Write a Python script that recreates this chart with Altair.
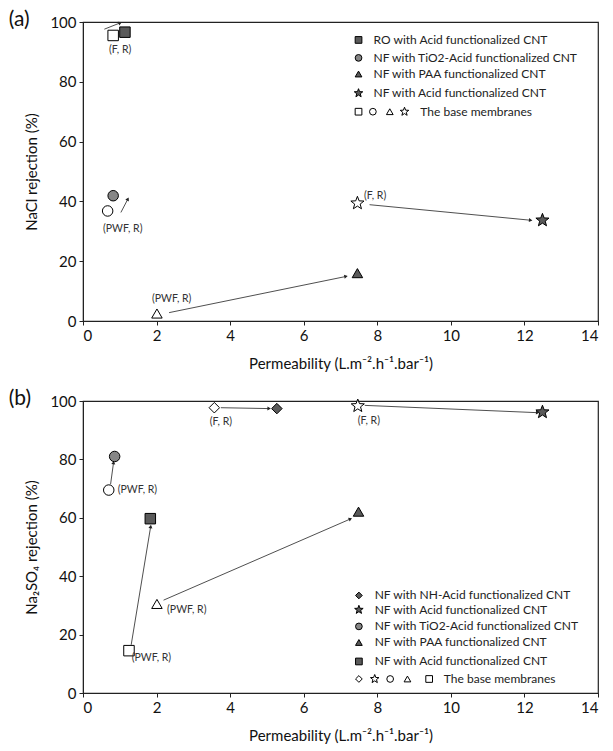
import math
import altair as alt
import pandas as pd

W = 515
HA = 299
HB = 292
FONT = "Lato"

# ---------------- Panel (a): NaCl ----------------
a_shapes = ["square", "circle", "triangle-up", "star"]
a_fills = ["dark", "mid", "dark", "dark"]
a_base_x = [0.82, 0.67, 2.01, 7.46]
a_base_y = [95.5, 36.8, 2.5, 39.4]
a_mod_x = [1.14, 0.82, 7.46, 12.49]
a_mod_y = [96.6, 41.9, 16.0, 33.7]

a_arr_x1 = [0.58, 1.03, 2.34, 7.79]
a_arr_y1 = [97.6, 36.3, 2.8, 38.9]
a_arr_x2 = [1.01, 1.22, 7.15, 12.17]
a_arr_y2 = [99.7, 40.8, 14.9, 33.7]

a_note_text = ["(F, R)", "(PWF, R)", "(PWF, R)", "(F, R)"]
a_note_x = [1.01, 1.08, 2.41, 7.94]
a_note_y = [90.8, 30.7, 7.5, 41.9]

a_leg_labels = ["RO with Acid functionalized CNT",
                "NF with TiO2-Acid functionalized CNT",
                "NF with PAA functionalized CNT",
                "NF with Acid functionalized CNT"]
a_leg_y = [94.0, 88.0, 82.6, 76.2]
a_leg_mx = 7.49
a_leg_tx = 7.9
a_base_row_y = 70.0
a_base_row_x = [7.49, 7.88, 8.34, 8.74]
a_base_row_tx = 9.17
base_label = "The base membranes"

# ---------------- Panel (b): Na2SO4 ----------------
b_shapes = ["diamond", "star", "circle", "triangle-up", "square"]
b_fills = ["dark", "dark", "mid", "dark", "dark"]
b_base_x = [3.57, 7.47, 0.70, 2.01, 1.25]
b_base_y = [97.7, 98.3, 69.5, 30.5, 14.5]
b_mod_x = [5.27, 12.49, 0.86, 7.49, 1.83]
b_mod_y = [97.4, 96.2, 81.0, 62.1, 59.7]

b_arr_x1 = [3.75, 7.66, 0.75, 2.19, 1.31]
b_arr_y1 = [97.7, 98.5, 71.5, 31.8, 16.5]
b_arr_x2 = [5.06, 12.36, 0.83, 7.27, 1.84]
b_arr_y2 = [97.4, 96.0, 78.9, 59.6, 57.0]

b_note_text = ["(F, R)", "(F, R)", "(PWF, R)", "(PWF, R)", "(PWF, R)"]
b_note_x = [3.75, 7.77, 1.48, 2.82, 1.86]
b_note_y = [92.8, 93.3, 69.5, 28.3, 12.0]

b_leg_labels = ["NF with NH-Acid functionalized CNT",
                "NF with Acid functionalized CNT",
                "NF with TiO2-Acid functionalized CNT",
                "NF with PAA functionalized CNT",
                "NF with Acid functionalized CNT"]
b_leg_y = [33.4, 28.5, 22.8, 17.3, 10.8]
b_leg_mx = 7.5
b_leg_tx = 7.93
b_base_row_y = 4.8
b_base_row_x = [7.5, 7.93, 8.35, 8.82, 9.41]
b_base_row_tx = 9.81

x_ticks = [0, 2, 4, 6, 8, 10, 12, 14]
y_ticks = [0, 20, 40, 60, 80, 100]
x_title = "Permeability (L.m\u207b\u00b2.h\u207b\u00b9.bar\u207b\u00b9)"

# panel tags, in data units just outside the top-left corner
tag_x = -2.02
tag_y = 100.8

# Vega has no built-in star symbol: a 5-point star as a unit SVG path
_star = []
for k in range(10):
    r = 1.0 if k % 2 == 0 else 0.42
    t = math.radians(-90 + 36 * k)
    _star.append(f"{r * math.cos(t):.3f},{r * math.sin(t):.3f}")
STAR_PATH = "M" + " L".join(_star) + " Z"

SHAPE_DOM = ["square", "circle", "triangle-up", "star", "diamond"]
SHAPE_RNG = ["square", "circle", "triangle-up", STAR_PATH, "diamond"]
FILL_DOM = ["base", "dark", "mid"]
FILL_RNG = ["#ffffff", "#5a5a5a", "#868686"]


def panel(tag, ytitle, H, shapes, fills, bx, by, mx, my,
          ax1, ay1, ax2, ay2, ntext, nx, ny,
          leg_labels, leg_y, leg_mx, leg_tx, brow_y, brow_x, brow_tx):
    xs = alt.Scale(domain=[0, 14], nice=False)
    ys = alt.Scale(domain=[0, 100], nice=False)
    xax = alt.Axis(values=x_ticks, title=x_title)
    yax = alt.Axis(values=y_ticks, title=ytitle)

    rows = []
    for i in range(len(shapes)):
        st = shapes[i] == "star"
        big = 190 if st else 110
        small = 80 if st else 45
        rows.append(dict(px=bx[i], py=by[i], shp=shapes[i], fc="base", sz=big))
        rows.append(dict(px=mx[i], py=my[i], shp=shapes[i], fc=fills[i], sz=big))
        rows.append(dict(px=leg_mx, py=leg_y[i], shp=shapes[i], fc=fills[i], sz=small))
        rows.append(dict(px=brow_x[i], py=brow_y, shp=shapes[i], fc="base", sz=small))
    pts = pd.DataFrame(rows)

    ang = []
    for i in range(len(ax1)):
        dx = (ax2[i] - ax1[i]) * W / 14.0
        dy = (ay2[i] - ay1[i]) * H / 100.0
        ang.append(round((math.degrees(math.atan2(dx, dy)) + 360.0) % 360.0, 2))
    arr = pd.DataFrame(dict(ax=ax1, ay=ay1, ex=ax2, ey=ay2, ang=ang))

    notes = pd.DataFrame(dict(tx=nx, ty=ny, tt=ntext))
    leg = pd.DataFrame(dict(tx=[leg_tx] * len(leg_labels) + [brow_tx],
                            ty=list(leg_y) + [brow_y],
                            tt=list(leg_labels) + [base_label]))
    tagdf = pd.DataFrame(dict(tx=[tag_x], ty=[tag_y], tt=[tag]))

    rules = alt.Chart(arr).mark_rule(color="#222", strokeWidth=0.8).encode(
        x=alt.X("ax:Q", scale=xs, axis=xax), y=alt.Y("ay:Q", scale=ys, axis=yax),
        x2=alt.X2("ex"), y2=alt.Y2("ey"))
    heads = alt.Chart(arr).mark_point(shape="triangle-up", filled=True,
                                      color="#222", size=16, opacity=1).encode(
        x=alt.X("ex:Q", scale=xs), y=alt.Y("ey:Q", scale=ys),
        angle=alt.Angle("ang:Q", scale=alt.Scale(domain=[0, 360], range=[0, 360])))
    points = alt.Chart(pts).mark_point(filled=True, stroke="black",
                                       strokeWidth=1, opacity=1).encode(
        x=alt.X("px:Q", scale=xs), y=alt.Y("py:Q", scale=ys),
        shape=alt.Shape("shp:N", scale=alt.Scale(domain=SHAPE_DOM, range=SHAPE_RNG), legend=None),
        fill=alt.Fill("fc:N", scale=alt.Scale(domain=FILL_DOM, range=FILL_RNG), legend=None),
        size=alt.Size("sz:Q", scale=None))
    note_layer = alt.Chart(notes).mark_text(font=FONT, fontSize=10.5,
                                            color="#333").encode(
        x=alt.X("tx:Q", scale=xs), y=alt.Y("ty:Q", scale=ys), text="tt:N")
    leg_layer = alt.Chart(leg).mark_text(font=FONT, fontSize=12, align="left",
                                         baseline="middle", color="#222").encode(
        x=alt.X("tx:Q", scale=xs), y=alt.Y("ty:Q", scale=ys), text="tt:N")
    tag_layer = alt.Chart(tagdf).mark_text(
        font=FONT, fontSize=21, align="left", baseline="middle",
        color="#111").encode(x=alt.X("tx:Q", scale=xs),
                             y=alt.Y("ty:Q", scale=ys), text="tt:N")

    return alt.layer(rules, heads, points, note_layer, leg_layer,
                     tag_layer).properties(width=W, height=H)


pa = panel("(a)", "NaCl rejection (%)", HA, a_shapes, a_fills,
           a_base_x, a_base_y, a_mod_x, a_mod_y,
           a_arr_x1, a_arr_y1, a_arr_x2, a_arr_y2,
           a_note_text, a_note_x, a_note_y,
           a_leg_labels, a_leg_y, a_leg_mx, a_leg_tx,
           a_base_row_y, a_base_row_x, a_base_row_tx)
pb = panel("(b)", "Na\u2082SO\u2084 rejection (%)", HB, b_shapes, b_fills,
           b_base_x, b_base_y, b_mod_x, b_mod_y,
           b_arr_x1, b_arr_y1, b_arr_x2, b_arr_y2,
           b_note_text, b_note_x, b_note_y,
           b_leg_labels, b_leg_y, b_leg_mx, b_leg_tx,
           b_base_row_y, b_base_row_x, b_base_row_tx)

chart = alt.vconcat(pa, pb, spacing=15).properties(padding=0).configure_view(
    stroke="#222", strokeWidth=1.2
).configure_axis(
    grid=False, domainColor="#222", tickColor="#222", labelColor="#111",
    titleColor="#111", labelFont=FONT, titleFont=FONT, labelFontSize=15,
    titleFontSize=15, titleFontWeight="normal", tickSize=4, labelPadding=3,
    titlePadding=13, labelOverlap=False
).configure_axisY(titlePadding=10)

chart.save("out.html", embed_options={"renderer": "svg", "actions": False})
